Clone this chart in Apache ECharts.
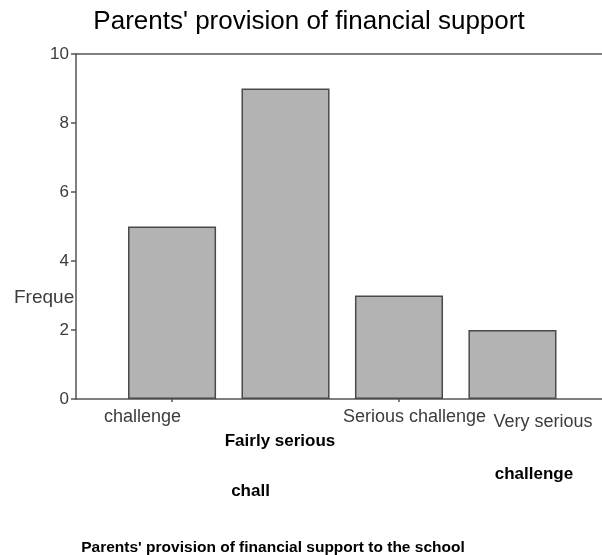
<!DOCTYPE html>
<html>
<head>
<meta charset="utf-8">
<script src="https://cdn.jsdelivr.net/npm/echarts@6/dist/echarts.min.js"></script>
<style>
  html, body { margin: 0; padding: 0; background: #fff; }
  #chart { width: 602px; height: 555px; }
</style>
</head>
<body>
<div id="chart"></div>
<script>
// data
var categories = ['Not a challenge', 'Fairly serious challenge', 'Serious challenge', 'Very serious challenge']
var frequency = [5, 9, 3, 2]
var yTicks = [0, 2, 4, 6, 8, 10]

// label rows as they appear on the picture (scanned grey row + black retyped rows)
var greyRow = ['challenge', '', 'Serious challenge', 'Very serious']
var blackRow1 = ['', 'Fairly serious', '', '']
var blackRow2 = ['', '', '', 'challenge']
var blackRow3 = ['', 'chall', '', '']

var txtGrey = '#3c3c3c'
var lineCol = '#555'
var fontName = 'Liberation Sans, Arial, sans-serif'

// horizontal nudge (px) and extra top pad per label, via rich padding
function rich (shifts, base, tops) {
  var r = {}
  shifts.forEach(function (s, i) {
    r['t' + i] = Object.assign({}, base, {
      padding: [tops ? tops[i] : 0, s < 0 ? -2 * s : 0, 0, s > 0 ? 2 * s : 0]
    })
  })
  return r
}

function labelAxis (row, shifts, margin, base, tops) {
  return {
    type: 'category',
    gridIndex: 1,
    position: 'bottom',
    data: categories,
    axisLine: {show: false},
    axisTick: {show: false},
    axisLabel: {
      interval: 0,
      margin: margin,
      formatter: function (v, i) {
        return row[i] ? '{t' + i + '|' + row[i] + '}' : ''
      },
      rich: rich(shifts, base, tops)
    }
  }
}

var greyStyle = {fontSize: 18, color: txtGrey, fontFamily: fontName}
var blackStyle = {fontSize: 17, fontWeight: 'bold', color: '#000', fontFamily: fontName}

var chart = echarts.init(document.getElementById('chart'), null, {renderer: 'canvas'})
chart.setOption({
  animation: false,
  backgroundColor: '#fff',
  title: [
    {
      text: "Parents' provision of financial support",
      left: 304,
      top: 4,
      textAlign: 'center',
      textStyle: {fontSize: 26, fontWeight: 'normal', color: '#000', fontFamily: fontName}
    },
    {
      text: "Parents' provision of financial support to the school",
      left: 268,
      top: 535,
      textAlign: 'center',
      textStyle: {fontSize: 15.5, fontWeight: 'bold', color: '#000', fontFamily: fontName}
    }
  ],
  graphic: [
    {
      type: 'text',
      left: 14,
      top: 288,
      style: {
        text: 'Frequency',
        width: 64,
        overflow: 'truncate',
        ellipsis: '',
        fontSize: 19,
        fill: txtGrey,
        fontFamily: fontName
      }
    }
  ],
  grid: [
    {left: 76, right: 0, top: 54, bottom: 156},
    {left: 115.3, right: 32.8, top: 54, bottom: 156}
  ],
  xAxis: [
    {
      type: 'value',
      gridIndex: 0,
      position: 'bottom',
      axisLine: {show: true, onZero: false, lineStyle: {color: lineCol, width: 1.5}},
      axisTick: {show: false},
      axisLabel: {show: false},
      splitLine: {show: false}
    },
    {
      type: 'category',
      gridIndex: 1,
      data: categories,
      axisLine: {show: false},
      axisTick: {show: true, alignWithLabel: true, length: 3, lineStyle: {color: lineCol, width: 1.5}},
      axisLabel: {show: false}
    },
    labelAxis(greyRow, [-29.5, 0, 15.5, 30.5], 9, greyStyle, [0, 0, 0, 5]),
    labelAxis(blackRow1, [0, -5.5, 0, 0], 34, blackStyle),
    labelAxis(blackRow2, [0, 0, 0, 21.5], 67, blackStyle),
    labelAxis(blackRow3, [0, -35, 0, 0], 84, blackStyle),
    {
      type: 'value',
      gridIndex: 0,
      position: 'top',
      axisLine: {show: true, onZero: false, lineStyle: {color: lineCol, width: 1.5}},
      axisTick: {show: false},
      axisLabel: {show: false},
      splitLine: {show: false}
    }
  ],
  yAxis: [
    {
      type: 'value',
      gridIndex: 0,
      min: yTicks[0],
      max: yTicks[yTicks.length - 1],
      interval: 2,
      axisLine: {show: true, lineStyle: {color: lineCol, width: 1.5}},
      axisTick: {show: true, length: 5, lineStyle: {color: lineCol, width: 1.5}},
      axisLabel: {fontSize: 17, color: txtGrey, margin: 7, fontFamily: fontName},
      splitLine: {show: false}
    },
    {
      type: 'value',
      gridIndex: 1,
      min: yTicks[0],
      max: yTicks[yTicks.length - 1],
      interval: 2,
      show: false
    }
  ],
  series: [
    {
      type: 'bar',
      xAxisIndex: 1,
      yAxisIndex: 1,
      data: frequency,
      barWidth: '77.6%',
      itemStyle: {color: '#b3b3b3', borderColor: '#4a4a4a', borderWidth: 1.5}
    }
  ]
})
</script>
</body>
</html>
